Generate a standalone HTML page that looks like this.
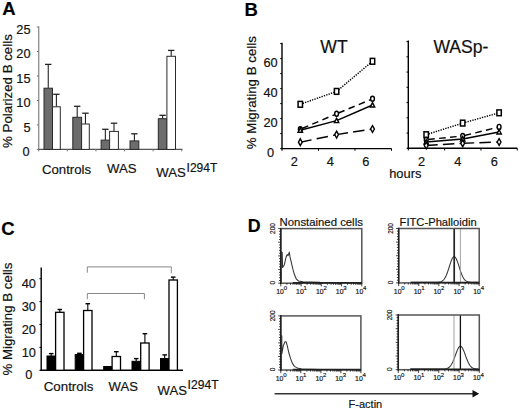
<!DOCTYPE html>
<html><head><meta charset="utf-8"><style>
html,body{margin:0;padding:0;background:#fff;}
body{width:520px;height:409px;overflow:hidden;}
svg{display:block;font-family:"Liberation Sans", sans-serif;}
text{stroke:#111;stroke-width:0.18px;}
</style></head><body>
<svg width="520" height="409" viewBox="0 0 520 409">
<rect width="520" height="409" fill="#fff"/>
<text x="2.2" y="15.3" font-size="18.5" text-anchor="start" font-weight="bold" fill="#000" >A</text>
<line x1="38.75" y1="26.5" x2="38.75" y2="149.4" stroke="#777" stroke-width="1.1" />
<line x1="38.25" y1="149.4" x2="182.5" y2="149.4" stroke="#555" stroke-width="1.1" />
<line x1="36.75" y1="149.4" x2="38.75" y2="149.4" stroke="#777" stroke-width="1" />
<text x="29.6" y="156.2" font-size="12.8" text-anchor="end" font-weight="normal" fill="#111" >0</text>
<line x1="36.75" y1="124.92" x2="38.75" y2="124.92" stroke="#777" stroke-width="1" />
<text x="30.6" y="131.72" font-size="12.8" text-anchor="end" font-weight="normal" fill="#111" >5</text>
<line x1="36.75" y1="100.44" x2="38.75" y2="100.44" stroke="#777" stroke-width="1" />
<text x="30.6" y="107.24" font-size="12.8" text-anchor="end" font-weight="normal" fill="#111" >10</text>
<line x1="36.75" y1="75.96" x2="38.75" y2="75.96" stroke="#777" stroke-width="1" />
<text x="30.6" y="82.76" font-size="12.8" text-anchor="end" font-weight="normal" fill="#111" >15</text>
<line x1="36.75" y1="51.48" x2="38.75" y2="51.48" stroke="#777" stroke-width="1" />
<text x="30.6" y="58.28" font-size="12.8" text-anchor="end" font-weight="normal" fill="#111" >20</text>
<line x1="36.75" y1="27" x2="38.75" y2="27" stroke="#777" stroke-width="1" />
<text x="30.6" y="33.8" font-size="12.8" text-anchor="end" font-weight="normal" fill="#111" >25</text>
<line x1="38.75" y1="149.4" x2="38.75" y2="151.4" stroke="#777" stroke-width="1" />
<line x1="67.35" y1="149.4" x2="67.35" y2="151.4" stroke="#777" stroke-width="1" />
<line x1="95.95" y1="149.4" x2="95.95" y2="151.4" stroke="#777" stroke-width="1" />
<line x1="124.55" y1="149.4" x2="124.55" y2="151.4" stroke="#777" stroke-width="1" />
<line x1="153.15" y1="149.4" x2="153.15" y2="151.4" stroke="#777" stroke-width="1" />
<line x1="181.75" y1="149.4" x2="181.75" y2="151.4" stroke="#777" stroke-width="1" />
<line x1="48.25" y1="64.4" x2="48.25" y2="88.2" stroke="#222" stroke-width="1.1" />
<line x1="45.05" y1="64.4" x2="51.45" y2="64.4" stroke="#222" stroke-width="1.3" />
<rect x="44" y="88.2" width="8.5" height="61.2" fill="#6c6c6c" stroke="#2a2a2a" stroke-width="1"/>
<line x1="56.4" y1="94.3" x2="56.4" y2="106.8" stroke="#222" stroke-width="1.1" />
<line x1="53.2" y1="94.3" x2="59.6" y2="94.3" stroke="#222" stroke-width="1.3" />
<rect x="52.5" y="106.8" width="7.8" height="42.6" fill="#fff" stroke="#2a2a2a" stroke-width="1"/>
<line x1="77.2" y1="106.3" x2="77.2" y2="117.3" stroke="#222" stroke-width="1.1" />
<line x1="74" y1="106.3" x2="80.4" y2="106.3" stroke="#222" stroke-width="1.3" />
<rect x="72.8" y="117.3" width="8.8" height="32.1" fill="#6c6c6c" stroke="#2a2a2a" stroke-width="1"/>
<line x1="85.45" y1="113.2" x2="85.45" y2="124" stroke="#222" stroke-width="1.1" />
<line x1="82.25" y1="113.2" x2="88.65" y2="113.2" stroke="#222" stroke-width="1.3" />
<rect x="81.6" y="124" width="7.7" height="25.4" fill="#fff" stroke="#2a2a2a" stroke-width="1"/>
<line x1="105.35" y1="129.3" x2="105.35" y2="140.1" stroke="#222" stroke-width="1.1" />
<line x1="102.15" y1="129.3" x2="108.55" y2="129.3" stroke="#222" stroke-width="1.3" />
<rect x="101.1" y="140.1" width="8.5" height="9.3" fill="#6c6c6c" stroke="#2a2a2a" stroke-width="1"/>
<line x1="114" y1="123.2" x2="114" y2="131.4" stroke="#222" stroke-width="1.1" />
<line x1="110.8" y1="123.2" x2="117.2" y2="123.2" stroke="#222" stroke-width="1.3" />
<rect x="109.6" y="131.4" width="8.8" height="18" fill="#fff" stroke="#2a2a2a" stroke-width="1"/>
<line x1="134.4" y1="133.8" x2="134.4" y2="140.9" stroke="#222" stroke-width="1.1" />
<line x1="131.2" y1="133.8" x2="137.6" y2="133.8" stroke="#222" stroke-width="1.3" />
<rect x="130" y="140.9" width="8.8" height="8.5" fill="#6c6c6c" stroke="#2a2a2a" stroke-width="1"/>
<line x1="162.6" y1="115.3" x2="162.6" y2="118.7" stroke="#222" stroke-width="1.1" />
<line x1="159.4" y1="115.3" x2="165.8" y2="115.3" stroke="#222" stroke-width="1.3" />
<rect x="158.3" y="118.7" width="8.6" height="30.7" fill="#6c6c6c" stroke="#2a2a2a" stroke-width="1"/>
<line x1="171.2" y1="50.4" x2="171.2" y2="56.3" stroke="#222" stroke-width="1.1" />
<line x1="168" y1="50.4" x2="174.4" y2="50.4" stroke="#222" stroke-width="1.3" />
<rect x="166.9" y="56.3" width="8.6" height="93.1" fill="#fff" stroke="#2a2a2a" stroke-width="1"/>
<text x="42" y="173.5" font-size="13.2" text-anchor="start" font-weight="normal" fill="#111" >Controls</text>
<text x="107" y="173.3" font-size="13.2" text-anchor="start" font-weight="normal" fill="#111" >WAS</text>
<text x="156.3" y="177.4" font-size="13.2" text-anchor="start" font-weight="normal" fill="#111" >WAS</text>
<text x="186.6" y="172.1" font-size="12.0" text-anchor="start" font-weight="normal" fill="#111" >I294T</text>
<text transform="translate(11.9,148) rotate(-90)" font-size="13.3" fill="#111">% Polarized B cells</text>
<text x="244.6" y="15.5" font-size="18.5" text-anchor="start" font-weight="bold" fill="#000" >B</text>
<text transform="translate(256.2,149.2) rotate(-90)" font-size="13.3" fill="#111">% Migrating B cells</text>
<line x1="282" y1="42.7" x2="282" y2="149.2" stroke="#000" stroke-width="1.4" />
<line x1="281.4" y1="148.6" x2="391.6" y2="148.6" stroke="#000" stroke-width="1.4" />
<line x1="280.2" y1="148.6" x2="282" y2="148.6" stroke="#000" stroke-width="1" />
<line x1="280.2" y1="133.6" x2="282" y2="133.6" stroke="#000" stroke-width="1" />
<line x1="280.2" y1="118.6" x2="282" y2="118.6" stroke="#000" stroke-width="1" />
<line x1="280.2" y1="103.6" x2="282" y2="103.6" stroke="#000" stroke-width="1" />
<line x1="280.2" y1="88.6" x2="282" y2="88.6" stroke="#000" stroke-width="1" />
<line x1="280.2" y1="73.6" x2="282" y2="73.6" stroke="#000" stroke-width="1" />
<line x1="280.2" y1="58.6" x2="282" y2="58.6" stroke="#000" stroke-width="1" />
<line x1="280.2" y1="43.6" x2="282" y2="43.6" stroke="#000" stroke-width="1" />
<line x1="282" y1="148.6" x2="282" y2="150.8" stroke="#000" stroke-width="1" />
<line x1="318.5" y1="148.6" x2="318.5" y2="150.8" stroke="#000" stroke-width="1" />
<line x1="355" y1="148.6" x2="355" y2="150.8" stroke="#000" stroke-width="1" />
<line x1="391.5" y1="148.6" x2="391.5" y2="150.8" stroke="#000" stroke-width="1" />
<text x="294.2" y="165.6" font-size="12.8" text-anchor="middle" font-weight="normal" fill="#111" >2</text>
<text x="330.3" y="165.6" font-size="12.8" text-anchor="middle" font-weight="normal" fill="#111" >4</text>
<text x="365.9" y="165.6" font-size="12.8" text-anchor="middle" font-weight="normal" fill="#111" >6</text>
<text x="320.3" y="53.3" font-size="17.6" text-anchor="start" font-weight="normal" fill="#111" >WT</text>
<line x1="300.3" y1="104.3" x2="336.6" y2="91.4" stroke="#000" stroke-width="1.45" stroke-dasharray="1.3 1.2"/>
<line x1="336.6" y1="91.4" x2="372.5" y2="61.3" stroke="#000" stroke-width="1.45" stroke-dasharray="1.3 1.2"/>
<line x1="300.3" y1="129.3" x2="336.6" y2="113.8" stroke="#000" stroke-width="1.45" stroke-dasharray="6.6 4.4" stroke-dashoffset="-2"/>
<line x1="336.6" y1="113.8" x2="372.5" y2="98.8" stroke="#000" stroke-width="1.45" stroke-dasharray="6.6 4.4" stroke-dashoffset="-2"/>
<line x1="300.3" y1="130.3" x2="336.6" y2="120.6" stroke="#000" stroke-width="1.45" />
<line x1="336.6" y1="120.6" x2="372.5" y2="105.0" stroke="#000" stroke-width="1.45" />
<line x1="300.3" y1="142.2" x2="336.6" y2="134.6" stroke="#000" stroke-width="1.45" stroke-dasharray="11.5 5.2"/>
<line x1="336.6" y1="134.6" x2="372.5" y2="129.0" stroke="#000" stroke-width="1.45" stroke-dasharray="11.5 5.2"/>
<rect x="298.1" y="101.39999999999999" width="4.4" height="5.8" fill="#fff" stroke="#000" stroke-width="1.5"/>
<rect x="334.40000000000003" y="88.5" width="4.4" height="5.8" fill="#fff" stroke="#000" stroke-width="1.5"/>
<rect x="370.3" y="58.4" width="4.4" height="5.8" fill="#fff" stroke="#000" stroke-width="1.5"/>
<ellipse cx="300.3" cy="129.3" rx="1.9" ry="2.5" fill="#fff" stroke="#000" stroke-width="1.4"/>
<ellipse cx="336.6" cy="113.8" rx="1.9" ry="2.5" fill="#fff" stroke="#000" stroke-width="1.4"/>
<ellipse cx="372.5" cy="98.8" rx="1.9" ry="2.5" fill="#fff" stroke="#000" stroke-width="1.4"/>
<path d="M300.3,127.9 L302.5,132.3 L298.1,132.3 Z" fill="#fff" stroke="#000" stroke-width="1.4"/>
<path d="M336.6,118.19999999999999 L338.8,122.6 L334.40000000000003,122.6 Z" fill="#fff" stroke="#000" stroke-width="1.4"/>
<path d="M372.5,102.6 L374.7,107.0 L370.3,107.0 Z" fill="#fff" stroke="#000" stroke-width="1.4"/>
<path d="M300.3,138.79999999999998 L302.2,142.2 L300.3,145.6 L298.40000000000003,142.2 Z" fill="#fff" stroke="#000" stroke-width="1.4"/>
<path d="M336.6,131.2 L338.5,134.6 L336.6,138.0 L334.70000000000005,134.6 Z" fill="#fff" stroke="#000" stroke-width="1.4"/>
<path d="M372.5,125.6 L374.4,129.0 L372.5,132.4 L370.6,129.0 Z" fill="#fff" stroke="#000" stroke-width="1.4"/>
<line x1="408.3" y1="40.5" x2="408.3" y2="148.9" stroke="#000" stroke-width="1.4" />
<line x1="407.7" y1="148.3" x2="517.3" y2="148.3" stroke="#000" stroke-width="1.4" />
<line x1="406.5" y1="148.3" x2="408.3" y2="148.3" stroke="#000" stroke-width="1" />
<line x1="406.5" y1="133.05" x2="408.3" y2="133.05" stroke="#000" stroke-width="1" />
<line x1="406.5" y1="117.8" x2="408.3" y2="117.8" stroke="#000" stroke-width="1" />
<line x1="406.5" y1="102.55" x2="408.3" y2="102.55" stroke="#000" stroke-width="1" />
<line x1="406.5" y1="87.3" x2="408.3" y2="87.3" stroke="#000" stroke-width="1" />
<line x1="406.5" y1="72.05" x2="408.3" y2="72.05" stroke="#000" stroke-width="1" />
<line x1="406.5" y1="56.8" x2="408.3" y2="56.8" stroke="#000" stroke-width="1" />
<line x1="406.5" y1="41.55" x2="408.3" y2="41.55" stroke="#000" stroke-width="1" />
<line x1="408.3" y1="148.3" x2="408.3" y2="150.5" stroke="#000" stroke-width="1" />
<line x1="444.63" y1="148.3" x2="444.63" y2="150.5" stroke="#000" stroke-width="1" />
<line x1="480.96" y1="148.3" x2="480.96" y2="150.5" stroke="#000" stroke-width="1" />
<line x1="517.29" y1="148.3" x2="517.29" y2="150.5" stroke="#000" stroke-width="1" />
<text x="421.5" y="165.6" font-size="12.8" text-anchor="middle" font-weight="normal" fill="#111" >2</text>
<text x="457.8" y="165.6" font-size="12.8" text-anchor="middle" font-weight="normal" fill="#111" >4</text>
<text x="494.3" y="165.6" font-size="12.8" text-anchor="middle" font-weight="normal" fill="#111" >6</text>
<text x="433.4" y="53.3" font-size="17.6" text-anchor="start" font-weight="normal" fill="#111" >WASp-</text>
<line x1="426.2" y1="134.7" x2="462.7" y2="123.1" stroke="#000" stroke-width="1.45" stroke-dasharray="1.3 1.2"/>
<line x1="462.7" y1="123.1" x2="499.1" y2="112.8" stroke="#000" stroke-width="1.45" stroke-dasharray="1.3 1.2"/>
<line x1="426.2" y1="139.7" x2="462.7" y2="136.0" stroke="#000" stroke-width="1.45" stroke-dasharray="6.6 4.4" stroke-dashoffset="-2"/>
<line x1="462.7" y1="136.0" x2="499.1" y2="126.9" stroke="#000" stroke-width="1.45" stroke-dasharray="6.6 4.4" stroke-dashoffset="-2"/>
<line x1="426.2" y1="142.0" x2="462.7" y2="139.0" stroke="#000" stroke-width="1.45" />
<line x1="462.7" y1="139.0" x2="499.1" y2="132.0" stroke="#000" stroke-width="1.45" />
<line x1="426.2" y1="145.5" x2="462.7" y2="143.3" stroke="#000" stroke-width="1.45" stroke-dasharray="11.5 5.2"/>
<line x1="462.7" y1="143.3" x2="499.1" y2="142.0" stroke="#000" stroke-width="1.45" stroke-dasharray="11.5 5.2"/>
<rect x="424.0" y="131.79999999999998" width="4.4" height="5.8" fill="#fff" stroke="#000" stroke-width="1.5"/>
<rect x="460.5" y="120.19999999999999" width="4.4" height="5.8" fill="#fff" stroke="#000" stroke-width="1.5"/>
<rect x="496.90000000000003" y="109.89999999999999" width="4.4" height="5.8" fill="#fff" stroke="#000" stroke-width="1.5"/>
<ellipse cx="426.2" cy="139.7" rx="1.9" ry="2.5" fill="#fff" stroke="#000" stroke-width="1.4"/>
<ellipse cx="462.7" cy="136.0" rx="1.9" ry="2.5" fill="#fff" stroke="#000" stroke-width="1.4"/>
<ellipse cx="499.1" cy="126.9" rx="1.9" ry="2.5" fill="#fff" stroke="#000" stroke-width="1.4"/>
<path d="M426.2,139.6 L428.4,144.0 L424.0,144.0 Z" fill="#fff" stroke="#000" stroke-width="1.4"/>
<path d="M462.7,136.6 L464.9,141.0 L460.5,141.0 Z" fill="#fff" stroke="#000" stroke-width="1.4"/>
<path d="M499.1,129.6 L501.3,134.0 L496.90000000000003,134.0 Z" fill="#fff" stroke="#000" stroke-width="1.4"/>
<path d="M426.2,142.1 L428.09999999999997,145.5 L426.2,148.9 L424.3,145.5 Z" fill="#fff" stroke="#000" stroke-width="1.4"/>
<path d="M462.7,139.9 L464.59999999999997,143.3 L462.7,146.70000000000002 L460.8,143.3 Z" fill="#fff" stroke="#000" stroke-width="1.4"/>
<path d="M499.1,138.6 L501.0,142.0 L499.1,145.4 L497.20000000000005,142.0 Z" fill="#fff" stroke="#000" stroke-width="1.4"/>
<text x="270.5" y="66.6" font-size="12.8" text-anchor="middle" font-weight="normal" fill="#111" >60</text>
<text x="270.5" y="96.6" font-size="12.8" text-anchor="middle" font-weight="normal" fill="#111" >40</text>
<text x="270.5" y="126.6" font-size="12.8" text-anchor="middle" font-weight="normal" fill="#111" >20</text>
<text x="270.5" y="156.6" font-size="12.8" text-anchor="middle" font-weight="normal" fill="#111" >0</text>
<text x="389.2" y="177.8" font-size="12.9" text-anchor="start" font-weight="normal" fill="#111" >hours</text>
<text x="1.3" y="235.2" font-size="18.5" text-anchor="start" font-weight="bold" fill="#000" >C</text>
<text transform="translate(11.8,375.6) rotate(-90)" font-size="13.3" fill="#111">% Migrating B cells</text>
<line x1="41.2" y1="267.4" x2="41.2" y2="370.9" stroke="#000" stroke-width="1.4" />
<line x1="40.6" y1="370.3" x2="183" y2="370.3" stroke="#000" stroke-width="1.4" />
<line x1="39.4" y1="370.3" x2="41.2" y2="370.3" stroke="#000" stroke-width="1" />
<text x="28.8" y="379.3" font-size="12.8" text-anchor="middle" font-weight="normal" fill="#111" >0</text>
<line x1="39.4" y1="347.4" x2="41.2" y2="347.4" stroke="#000" stroke-width="1" />
<text x="28.8" y="357.3" font-size="12.8" text-anchor="middle" font-weight="normal" fill="#111" >10</text>
<line x1="39.4" y1="324.5" x2="41.2" y2="324.5" stroke="#000" stroke-width="1" />
<text x="28.8" y="333.5" font-size="12.8" text-anchor="middle" font-weight="normal" fill="#111" >20</text>
<line x1="39.4" y1="301.6" x2="41.2" y2="301.6" stroke="#000" stroke-width="1" />
<text x="28.8" y="310.6" font-size="12.8" text-anchor="middle" font-weight="normal" fill="#111" >30</text>
<line x1="39.4" y1="278.7" x2="41.2" y2="278.7" stroke="#000" stroke-width="1" />
<text x="28.8" y="287.7" font-size="12.8" text-anchor="middle" font-weight="normal" fill="#111" >40</text>
<line x1="51.2" y1="353.6" x2="51.2" y2="356" stroke="#000" stroke-width="1.1" />
<line x1="48.9" y1="353.6" x2="53.5" y2="353.6" stroke="#000" stroke-width="1.4" />
<rect x="47" y="356" width="8.4" height="14.3" fill="#000" stroke="#000" stroke-width="1"/>
<line x1="59.8" y1="309.5" x2="59.8" y2="312.3" stroke="#000" stroke-width="1.1" />
<line x1="57.5" y1="309.5" x2="62.1" y2="309.5" stroke="#000" stroke-width="1.4" />
<rect x="55.6" y="312.3" width="8.4" height="58" fill="#fff" stroke="#000" stroke-width="1.3"/>
<line x1="79.4" y1="353.3" x2="79.4" y2="354.5" stroke="#000" stroke-width="1.1" />
<line x1="77.1" y1="353.3" x2="81.7" y2="353.3" stroke="#000" stroke-width="1.4" />
<rect x="75.2" y="354.5" width="8.4" height="15.8" fill="#000" stroke="#000" stroke-width="1"/>
<line x1="87.8" y1="303.7" x2="87.8" y2="310.5" stroke="#000" stroke-width="1.1" />
<line x1="85.5" y1="303.7" x2="90.1" y2="303.7" stroke="#000" stroke-width="1.4" />
<rect x="83.6" y="310.5" width="8.4" height="59.8" fill="#fff" stroke="#000" stroke-width="1.3"/>
<rect x="103.7" y="366.5" width="8.4" height="3.8" fill="#000" stroke="#000" stroke-width="1"/>
<line x1="116.3" y1="351.7" x2="116.3" y2="356.5" stroke="#000" stroke-width="1.1" />
<line x1="114" y1="351.7" x2="118.6" y2="351.7" stroke="#000" stroke-width="1.4" />
<rect x="112.1" y="356.5" width="8.4" height="13.8" fill="#fff" stroke="#000" stroke-width="1.3"/>
<line x1="136.2" y1="358.6" x2="136.2" y2="361.3" stroke="#000" stroke-width="1.1" />
<line x1="133.9" y1="358.6" x2="138.5" y2="358.6" stroke="#000" stroke-width="1.4" />
<rect x="132" y="361.3" width="8.4" height="9" fill="#000" stroke="#000" stroke-width="1"/>
<line x1="144.9" y1="333.7" x2="144.9" y2="343" stroke="#000" stroke-width="1.1" />
<line x1="142.6" y1="333.7" x2="147.2" y2="333.7" stroke="#000" stroke-width="1.4" />
<rect x="140.7" y="343" width="8.4" height="27.3" fill="#fff" stroke="#000" stroke-width="1.3"/>
<line x1="164.7" y1="354.9" x2="164.7" y2="358.6" stroke="#000" stroke-width="1.1" />
<line x1="162.4" y1="354.9" x2="167" y2="354.9" stroke="#000" stroke-width="1.4" />
<rect x="160.5" y="358.6" width="8.4" height="11.7" fill="#000" stroke="#000" stroke-width="1"/>
<line x1="173.2" y1="277.1" x2="173.2" y2="280" stroke="#000" stroke-width="1.1" />
<line x1="170.9" y1="277.1" x2="175.5" y2="277.1" stroke="#000" stroke-width="1.4" />
<rect x="169" y="280" width="8.4" height="90.3" fill="#fff" stroke="#000" stroke-width="1.3"/>
<path d="M87.3,272.7 V266.9 H171.3 V273.3" fill="none" stroke="#888" stroke-width="1"/>
<path d="M87.3,299.2 V293.5 H144.4 V299.2" fill="none" stroke="#888" stroke-width="1"/>
<text x="43.7" y="391.2" font-size="13.35" text-anchor="start" font-weight="normal" fill="#111" >Controls</text>
<text x="108.6" y="391" font-size="13.1" text-anchor="start" font-weight="normal" fill="#111" >WAS</text>
<text x="157.6" y="395" font-size="13.1" text-anchor="start" font-weight="normal" fill="#111" >WAS</text>
<text x="187.6" y="389.2" font-size="12.1" text-anchor="start" font-weight="normal" fill="#111" >I294T</text>
<text x="247.8" y="232.1" font-size="17.8" text-anchor="start" font-weight="bold" fill="#000" >D</text>
<text x="279.6" y="225.5" font-size="11.35" text-anchor="start" font-weight="normal" fill="#111" >Nonstained cells</text>
<text x="399.6" y="225.5" font-size="11.2" text-anchor="start" font-weight="normal" fill="#111" >FITC-Phalloidin</text>
<path d="M281.2,282.5 L281.2,251.8 L282.2,252.5 L282.6,267.5 L284.4,264.7 L286.1,256.9 L287.2,254.6 L288.1,255.7 L289.3,252.1 L290.0,256.9 L291.2,261.9 L292.9,269.2 L294.5,274.8 L296.2,278.8 L298.5,281.0 L303.0,281.8 L320.0,282.2" fill="none" stroke="#333" stroke-width="1.05" stroke-linejoin="round"/>
<rect x="280.8" y="228.6" width="81.0" height="54.599999999999994" fill="none" stroke="#555" stroke-width="1.5"/>
<line x1="280.8" y1="227.9" x2="280.8" y2="283.9" stroke="#222" stroke-width="1.4" />
<line x1="292.8" y1="282.7" x2="361.8" y2="282.7" stroke="#222" stroke-width="1.5" />
<path d="M278.2,228.6H280.8M279.0,231.3H280.8M279.0,234.1H280.8M279.0,236.8H280.8M279.0,239.5H280.8M278.2,242.2H280.8M279.0,245.0H280.8M279.0,247.7H280.8M279.0,250.4H280.8M279.0,253.2H280.8M278.2,255.9H280.8M279.0,258.6H280.8M279.0,261.4H280.8M279.0,264.1H280.8M279.0,266.8H280.8M278.2,269.6H280.8M279.0,272.3H280.8M279.0,275.0H280.8M279.0,277.7H280.8M279.0,280.5H280.8M278.2,283.2H280.8M280.8,283.2V286.4M286.9,283.2V284.8M290.5,283.2V284.8M293.0,283.2V284.8M295.0,283.2V284.8M296.6,283.2V284.8M297.9,283.2V284.8M299.1,283.2V284.8M300.1,283.2V284.8M301.1,283.2V286.4M307.1,283.2V284.8M310.7,283.2V284.8M313.2,283.2V284.8M315.2,283.2V284.8M316.8,283.2V284.8M318.2,283.2V284.8M319.3,283.2V284.8M320.4,283.2V284.8M321.3,283.2V286.4M327.4,283.2V284.8M331.0,283.2V284.8M333.5,283.2V284.8M335.5,283.2V284.8M337.1,283.2V284.8M338.4,283.2V284.8M339.6,283.2V284.8M340.6,283.2V284.8M341.6,283.2V286.4M347.6,283.2V284.8M351.2,283.2V284.8M353.7,283.2V284.8M355.7,283.2V284.8M357.3,283.2V284.8M358.7,283.2V284.8M359.8,283.2V284.8M360.9,283.2V284.8M361.8,283.2V286.4" stroke="#111" stroke-width="0.8" fill="none"/>
<text x="276.2" y="293.8" font-size="6.9" text-anchor="start" font-weight="normal" fill="#1a1a1a" stroke="#1a1a1a" stroke-width="0.3">10</text>
<text x="283.7" y="290.4" font-size="6.0" text-anchor="start" font-weight="normal" fill="#1a1a1a" stroke="#1a1a1a" stroke-width="0.25">0</text>
<text x="296.1" y="293.8" font-size="6.9" text-anchor="start" font-weight="normal" fill="#1a1a1a" stroke="#1a1a1a" stroke-width="0.3">10</text>
<text x="303.6" y="290.4" font-size="6.0" text-anchor="start" font-weight="normal" fill="#1a1a1a" stroke="#1a1a1a" stroke-width="0.25">1</text>
<text x="315.9" y="293.8" font-size="6.9" text-anchor="start" font-weight="normal" fill="#1a1a1a" stroke="#1a1a1a" stroke-width="0.3">10</text>
<text x="323.4" y="290.4" font-size="6.0" text-anchor="start" font-weight="normal" fill="#1a1a1a" stroke="#1a1a1a" stroke-width="0.25">2</text>
<text x="335.8" y="293.8" font-size="6.9" text-anchor="start" font-weight="normal" fill="#1a1a1a" stroke="#1a1a1a" stroke-width="0.3">10</text>
<text x="343.2" y="290.4" font-size="6.0" text-anchor="start" font-weight="normal" fill="#1a1a1a" stroke="#1a1a1a" stroke-width="0.25">3</text>
<text x="355.6" y="293.8" font-size="6.9" text-anchor="start" font-weight="normal" fill="#1a1a1a" stroke="#1a1a1a" stroke-width="0.3">10</text>
<text x="363.1" y="290.4" font-size="6.0" text-anchor="start" font-weight="normal" fill="#1a1a1a" stroke="#1a1a1a" stroke-width="0.25">4</text>
<text transform="translate(274.6,228.6) rotate(-90)" font-size="6.4" text-anchor="middle" fill="#1a1a1a" stroke="#1a1a1a" stroke-width="0.3">200</text>
<text transform="translate(274.6,282.7) rotate(-90)" font-size="6.4" text-anchor="middle" fill="#1a1a1a" stroke="#1a1a1a" stroke-width="0.3">0</text>
<path d="M410.7,282.3 L411.4,282.3 L412.1,282.3 L412.8,282.3 L413.5,282.3 L414.2,282.3 L414.9,282.3 L415.6,282.3 L416.3,282.3 L417.0,282.3 L417.7,282.3 L418.4,282.3 L419.1,282.3 L419.8,282.3 L420.5,282.3 L421.2,282.3 L421.9,282.3 L422.6,282.3 L423.3,282.3 L424.0,282.3 L424.7,282.3 L425.4,282.3 L426.1,282.3 L426.8,282.3 L427.5,282.3 L428.2,282.3 L428.9,282.3 L429.6,282.3 L430.3,282.3 L431.0,282.3 L431.7,282.3 L432.4,282.3 L433.1,282.3 L433.8,282.3 L434.5,282.3 L435.2,282.3 L435.9,282.3 L436.6,282.3 L437.3,282.2 L438.0,282.2 L438.7,282.1 L439.4,282.0 L440.1,281.9 L440.8,281.7 L441.5,281.4 L442.2,281.0 L442.9,280.5 L443.6,279.8 L444.3,279.0 L445.0,277.9 L445.7,276.6 L446.4,275.1 L447.1,273.3 L447.8,271.3 L448.5,269.2 L449.2,267.0 L449.9,264.8 L450.6,262.7 L451.3,260.7 L452.0,259.1 L452.7,257.8 L453.4,256.9 L454.1,256.6 L454.8,256.8 L455.5,257.5 L456.2,258.7 L456.9,260.2 L457.6,262.1 L458.3,264.2 L459.0,266.4 L459.7,268.6 L460.4,270.8 L461.1,272.8 L461.8,274.6 L462.5,276.2 L463.2,277.5 L463.9,278.7 L464.6,279.6 L465.3,280.3 L466.0,280.9 L466.7,281.3 L467.4,281.6 L468.1,281.8 L468.8,282.0 L469.5,282.1 L470.2,282.2 L470.9,282.2 L471.6,282.3 L472.3,282.3 L473.0,282.3 L473.7,282.3 L474.4,282.3 L475.1,282.3 L475.8,282.3 L476.5,282.3 L477.2,282.3 L477.9,282.3 L478.6,282.3" fill="none" stroke="#333" stroke-width="1.05" stroke-linejoin="round"/>
<line x1="454.2" y1="228.5" x2="454.2" y2="282.9" stroke="#222" stroke-width="1.7" />
<line x1="460.4" y1="228.5" x2="460.4" y2="282.9" stroke="#999" stroke-width="0.9" />
<rect x="398.7" y="228.5" width="80.5" height="54.39999999999998" fill="none" stroke="#555" stroke-width="1.5"/>
<line x1="398.7" y1="227.8" x2="398.7" y2="283.6" stroke="#222" stroke-width="1.4" />
<line x1="410.7" y1="282.4" x2="479.2" y2="282.4" stroke="#222" stroke-width="1.5" />
<path d="M396.1,228.5H398.7M396.9,231.2H398.7M396.9,233.9H398.7M396.9,236.7H398.7M396.9,239.4H398.7M396.1,242.1H398.7M396.9,244.8H398.7M396.9,247.5H398.7M396.9,250.3H398.7M396.9,253.0H398.7M396.1,255.7H398.7M396.9,258.4H398.7M396.9,261.1H398.7M396.9,263.9H398.7M396.9,266.6H398.7M396.1,269.3H398.7M396.9,272.0H398.7M396.9,274.7H398.7M396.9,277.5H398.7M396.9,280.2H398.7M396.1,282.9H398.7M398.7,282.9V286.1M404.8,282.9V284.5M408.3,282.9V284.5M410.8,282.9V284.5M412.8,282.9V284.5M414.4,282.9V284.5M415.7,282.9V284.5M416.9,282.9V284.5M417.9,282.9V284.5M418.8,282.9V286.1M424.9,282.9V284.5M428.4,282.9V284.5M430.9,282.9V284.5M432.9,282.9V284.5M434.5,282.9V284.5M435.8,282.9V284.5M437.0,282.9V284.5M438.0,282.9V284.5M438.9,282.9V286.1M445.0,282.9V284.5M448.6,282.9V284.5M451.1,282.9V284.5M453.0,282.9V284.5M454.6,282.9V284.5M456.0,282.9V284.5M457.1,282.9V284.5M458.2,282.9V284.5M459.1,282.9V286.1M465.1,282.9V284.5M468.7,282.9V284.5M471.2,282.9V284.5M473.1,282.9V284.5M474.7,282.9V284.5M476.1,282.9V284.5M477.2,282.9V284.5M478.3,282.9V284.5M479.2,282.9V286.09999999999997" stroke="#111" stroke-width="0.8" fill="none"/>
<text x="393.8" y="293.5" font-size="6.9" text-anchor="start" font-weight="normal" fill="#1a1a1a" stroke="#1a1a1a" stroke-width="0.3">10</text>
<text x="401.3" y="290.1" font-size="6.0" text-anchor="start" font-weight="normal" fill="#1a1a1a" stroke="#1a1a1a" stroke-width="0.25">0</text>
<text x="413.7" y="293.5" font-size="6.9" text-anchor="start" font-weight="normal" fill="#1a1a1a" stroke="#1a1a1a" stroke-width="0.3">10</text>
<text x="421.2" y="290.1" font-size="6.0" text-anchor="start" font-weight="normal" fill="#1a1a1a" stroke="#1a1a1a" stroke-width="0.25">1</text>
<text x="433.5" y="293.5" font-size="6.9" text-anchor="start" font-weight="normal" fill="#1a1a1a" stroke="#1a1a1a" stroke-width="0.3">10</text>
<text x="441" y="290.1" font-size="6.0" text-anchor="start" font-weight="normal" fill="#1a1a1a" stroke="#1a1a1a" stroke-width="0.25">2</text>
<text x="453.4" y="293.5" font-size="6.9" text-anchor="start" font-weight="normal" fill="#1a1a1a" stroke="#1a1a1a" stroke-width="0.3">10</text>
<text x="460.9" y="290.1" font-size="6.0" text-anchor="start" font-weight="normal" fill="#1a1a1a" stroke="#1a1a1a" stroke-width="0.25">3</text>
<text x="473.2" y="293.5" font-size="6.9" text-anchor="start" font-weight="normal" fill="#1a1a1a" stroke="#1a1a1a" stroke-width="0.3">10</text>
<text x="480.7" y="290.1" font-size="6.0" text-anchor="start" font-weight="normal" fill="#1a1a1a" stroke="#1a1a1a" stroke-width="0.25">4</text>
<text transform="translate(392.5,228.5) rotate(-90)" font-size="6.4" text-anchor="middle" fill="#1a1a1a" stroke="#1a1a1a" stroke-width="0.3">200</text>
<text transform="translate(392.5,282.4) rotate(-90)" font-size="6.4" text-anchor="middle" fill="#1a1a1a" stroke="#1a1a1a" stroke-width="0.3">0</text>
<path d="M281.2,369.8 L281.2,335.5 L281.8,336.0 L281.8,354.0 L283.3,345.7 L285.0,341.7 L286.1,341.7 L287.2,345.7 L288.9,353.0 L290.6,358.6 L292.3,363.1 L294.5,366.4 L297.3,368.1 L301.8,369.1 L320.0,369.4" fill="none" stroke="#333" stroke-width="1.05" stroke-linejoin="round"/>
<rect x="280.8" y="315.9" width="80.09999999999997" height="54.10000000000002" fill="none" stroke="#555" stroke-width="1.5"/>
<line x1="280.8" y1="315.2" x2="280.8" y2="370.7" stroke="#222" stroke-width="1.4" />
<line x1="292.8" y1="369.5" x2="360.9" y2="369.5" stroke="#222" stroke-width="1.5" />
<path d="M278.2,315.9H280.8M279.0,318.6H280.8M279.0,321.3H280.8M279.0,324.0H280.8M279.0,326.7H280.8M278.2,329.4H280.8M279.0,332.1H280.8M279.0,334.8H280.8M279.0,337.5H280.8M279.0,340.2H280.8M278.2,342.9H280.8M279.0,345.7H280.8M279.0,348.4H280.8M279.0,351.1H280.8M279.0,353.8H280.8M278.2,356.5H280.8M279.0,359.2H280.8M279.0,361.9H280.8M279.0,364.6H280.8M279.0,367.3H280.8M278.2,370.0H280.8M280.8,370.0V373.2M286.8,370.0V371.6M290.4,370.0V371.6M292.9,370.0V371.6M294.8,370.0V371.6M296.4,370.0V371.6M297.7,370.0V371.6M298.9,370.0V371.6M299.9,370.0V371.6M300.8,370.0V373.2M306.9,370.0V371.6M310.4,370.0V371.6M312.9,370.0V371.6M314.8,370.0V371.6M316.4,370.0V371.6M317.7,370.0V371.6M318.9,370.0V371.6M319.9,370.0V371.6M320.9,370.0V373.2M326.9,370.0V371.6M330.4,370.0V371.6M332.9,370.0V371.6M334.8,370.0V371.6M336.4,370.0V371.6M337.8,370.0V371.6M338.9,370.0V371.6M340.0,370.0V371.6M340.9,370.0V373.2M346.9,370.0V371.6M350.4,370.0V371.6M352.9,370.0V371.6M354.9,370.0V371.6M356.5,370.0V371.6M357.8,370.0V371.6M359.0,370.0V371.6M360.0,370.0V371.6M360.9,370.0V373.2" stroke="#111" stroke-width="0.8" fill="none"/>
<text x="275.7" y="380.6" font-size="6.9" text-anchor="start" font-weight="normal" fill="#1a1a1a" stroke="#1a1a1a" stroke-width="0.3">10</text>
<text x="283.2" y="377.2" font-size="6.0" text-anchor="start" font-weight="normal" fill="#1a1a1a" stroke="#1a1a1a" stroke-width="0.25">0</text>
<text x="295.6" y="380.6" font-size="6.9" text-anchor="start" font-weight="normal" fill="#1a1a1a" stroke="#1a1a1a" stroke-width="0.3">10</text>
<text x="303.1" y="377.2" font-size="6.0" text-anchor="start" font-weight="normal" fill="#1a1a1a" stroke="#1a1a1a" stroke-width="0.25">1</text>
<text x="315.4" y="380.6" font-size="6.9" text-anchor="start" font-weight="normal" fill="#1a1a1a" stroke="#1a1a1a" stroke-width="0.3">10</text>
<text x="322.9" y="377.2" font-size="6.0" text-anchor="start" font-weight="normal" fill="#1a1a1a" stroke="#1a1a1a" stroke-width="0.25">2</text>
<text x="335.2" y="380.6" font-size="6.9" text-anchor="start" font-weight="normal" fill="#1a1a1a" stroke="#1a1a1a" stroke-width="0.3">10</text>
<text x="342.8" y="377.2" font-size="6.0" text-anchor="start" font-weight="normal" fill="#1a1a1a" stroke="#1a1a1a" stroke-width="0.25">3</text>
<text x="355.1" y="380.6" font-size="6.9" text-anchor="start" font-weight="normal" fill="#1a1a1a" stroke="#1a1a1a" stroke-width="0.3">10</text>
<text x="362.6" y="377.2" font-size="6.0" text-anchor="start" font-weight="normal" fill="#1a1a1a" stroke="#1a1a1a" stroke-width="0.25">4</text>
<text transform="translate(274.6,315.9) rotate(-90)" font-size="6.4" text-anchor="middle" fill="#1a1a1a" stroke="#1a1a1a" stroke-width="0.3">200</text>
<text transform="translate(274.6,369.5) rotate(-90)" font-size="6.4" text-anchor="middle" fill="#1a1a1a" stroke="#1a1a1a" stroke-width="0.3">0</text>
<path d="M410.3,369.1 L411.0,369.1 L411.7,369.1 L412.4,369.1 L413.1,369.1 L413.8,369.1 L414.5,369.1 L415.2,369.1 L415.9,369.1 L416.6,369.1 L417.3,369.1 L418.0,369.1 L418.7,369.1 L419.4,369.1 L420.1,369.1 L420.8,369.1 L421.5,369.1 L422.2,369.1 L422.9,369.1 L423.6,369.1 L424.3,369.1 L425.0,369.1 L425.7,369.1 L426.4,369.1 L427.1,369.1 L427.8,369.1 L428.5,369.1 L429.2,369.1 L429.9,369.1 L430.6,369.1 L431.3,369.1 L432.0,369.1 L432.7,369.1 L433.4,369.1 L434.1,369.1 L434.8,369.1 L435.5,369.1 L436.2,369.1 L436.9,369.1 L437.6,369.1 L438.3,369.1 L439.0,369.1 L439.7,369.1 L440.4,369.1 L441.1,369.1 L441.8,369.1 L442.5,369.1 L443.2,369.0 L443.9,369.0 L444.6,368.9 L445.3,368.9 L446.0,368.7 L446.7,368.6 L447.4,368.3 L448.1,368.0 L448.8,367.5 L449.5,367.0 L450.2,366.2 L450.9,365.3 L451.6,364.2 L452.3,362.9 L453.0,361.4 L453.7,359.8 L454.4,358.0 L455.1,356.0 L455.8,354.1 L456.5,352.2 L457.2,350.4 L457.9,348.9 L458.6,347.6 L459.3,346.7 L460.0,346.3 L460.7,346.2 L461.4,346.7 L462.1,347.5 L462.8,348.7 L463.5,350.2 L464.2,351.9 L464.9,353.8 L465.6,355.8 L466.3,357.7 L467.0,359.5 L467.7,361.2 L468.4,362.7 L469.1,364.1 L469.8,365.2 L470.5,366.1 L471.2,366.9 L471.9,367.5 L472.6,367.9 L473.3,368.3 L474.0,368.5 L474.7,368.7 L475.4,368.8 L476.1,368.9 L476.8,369.0 L477.5,369.0 L478.2,369.1" fill="none" stroke="#333" stroke-width="1.05" stroke-linejoin="round"/>
<line x1="454" y1="315" x2="454" y2="369.7" stroke="#aaa" stroke-width="1.1" />
<line x1="460.4" y1="315" x2="460.4" y2="369.7" stroke="#111" stroke-width="1.3" />
<rect x="398.3" y="315.0" width="81.0" height="54.69999999999999" fill="none" stroke="#555" stroke-width="1.5"/>
<line x1="398.3" y1="314.3" x2="398.3" y2="370.4" stroke="#222" stroke-width="1.4" />
<line x1="410.3" y1="369.2" x2="479.3" y2="369.2" stroke="#222" stroke-width="1.5" />
<path d="M395.7,315.0H398.3M396.5,317.7H398.3M396.5,320.5H398.3M396.5,323.2H398.3M396.5,325.9H398.3M395.7,328.7H398.3M396.5,331.4H398.3M396.5,334.1H398.3M396.5,336.9H398.3M396.5,339.6H398.3M395.7,342.4H398.3M396.5,345.1H398.3M396.5,347.8H398.3M396.5,350.6H398.3M396.5,353.3H398.3M395.7,356.0H398.3M396.5,358.8H398.3M396.5,361.5H398.3M396.5,364.2H398.3M396.5,367.0H398.3M395.7,369.7H398.3M398.3,369.7V372.9M404.4,369.7V371.3M408.0,369.7V371.3M410.5,369.7V371.3M412.5,369.7V371.3M414.1,369.7V371.3M415.4,369.7V371.3M416.6,369.7V371.3M417.6,369.7V371.3M418.6,369.7V372.9M424.6,369.7V371.3M428.2,369.7V371.3M430.7,369.7V371.3M432.7,369.7V371.3M434.3,369.7V371.3M435.7,369.7V371.3M436.8,369.7V371.3M437.9,369.7V371.3M438.8,369.7V372.9M444.9,369.7V371.3M448.5,369.7V371.3M451.0,369.7V371.3M453.0,369.7V371.3M454.6,369.7V371.3M455.9,369.7V371.3M457.1,369.7V371.3M458.1,369.7V371.3M459.1,369.7V372.9M465.1,369.7V371.3M468.7,369.7V371.3M471.2,369.7V371.3M473.2,369.7V371.3M474.8,369.7V371.3M476.2,369.7V371.3M477.3,369.7V371.3M478.4,369.7V371.3M479.3,369.7V372.9" stroke="#111" stroke-width="0.8" fill="none"/>
<text x="393.5" y="380.3" font-size="6.9" text-anchor="start" font-weight="normal" fill="#1a1a1a" stroke="#1a1a1a" stroke-width="0.3">10</text>
<text x="401" y="376.9" font-size="6.0" text-anchor="start" font-weight="normal" fill="#1a1a1a" stroke="#1a1a1a" stroke-width="0.25">0</text>
<text x="413.4" y="380.3" font-size="6.9" text-anchor="start" font-weight="normal" fill="#1a1a1a" stroke="#1a1a1a" stroke-width="0.3">10</text>
<text x="420.9" y="376.9" font-size="6.0" text-anchor="start" font-weight="normal" fill="#1a1a1a" stroke="#1a1a1a" stroke-width="0.25">1</text>
<text x="433.2" y="380.3" font-size="6.9" text-anchor="start" font-weight="normal" fill="#1a1a1a" stroke="#1a1a1a" stroke-width="0.3">10</text>
<text x="440.7" y="376.9" font-size="6.0" text-anchor="start" font-weight="normal" fill="#1a1a1a" stroke="#1a1a1a" stroke-width="0.25">2</text>
<text x="453.1" y="380.3" font-size="6.9" text-anchor="start" font-weight="normal" fill="#1a1a1a" stroke="#1a1a1a" stroke-width="0.3">10</text>
<text x="460.6" y="376.9" font-size="6.0" text-anchor="start" font-weight="normal" fill="#1a1a1a" stroke="#1a1a1a" stroke-width="0.25">3</text>
<text x="472.9" y="380.3" font-size="6.9" text-anchor="start" font-weight="normal" fill="#1a1a1a" stroke="#1a1a1a" stroke-width="0.3">10</text>
<text x="480.4" y="376.9" font-size="6.0" text-anchor="start" font-weight="normal" fill="#1a1a1a" stroke="#1a1a1a" stroke-width="0.25">4</text>
<text transform="translate(392.1,315.0) rotate(-90)" font-size="6.4" text-anchor="middle" fill="#1a1a1a" stroke="#1a1a1a" stroke-width="0.3">200</text>
<text transform="translate(392.1,369.2) rotate(-90)" font-size="6.4" text-anchor="middle" fill="#1a1a1a" stroke="#1a1a1a" stroke-width="0.3">0</text>
<line x1="274.6" y1="393.8" x2="473.5" y2="393.8" stroke="#333" stroke-width="1.6" />
<path d="M472.5,390.1 L479.2,393.8 L472.5,397.4 Z" fill="#111"/>
<text x="348.6" y="407.6" font-size="11.0" text-anchor="start" font-weight="normal" fill="#111" >F-actin</text>
</svg>
</body></html>
